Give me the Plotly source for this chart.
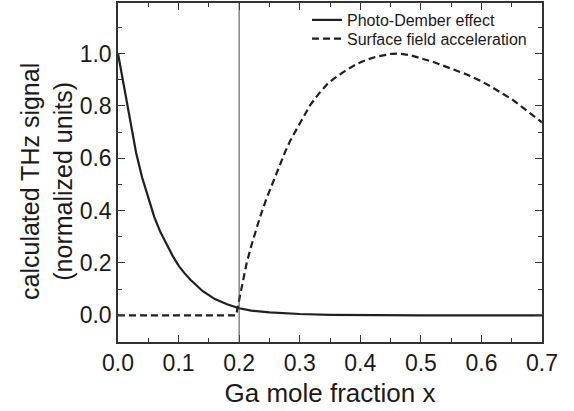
import plotly.graph_objects as go

# Photo-Dember effect (solid)
x_pd = [0.0, 0.01, 0.02, 0.03, 0.04, 0.05, 0.06, 0.07, 0.08, 0.09, 0.10, 0.11, 0.12, 0.13, 0.14, 0.16, 0.18, 0.20, 0.22, 0.25, 0.30, 0.35, 0.40, 0.50, 0.60, 0.70]
y_pd = [1.0, 0.87, 0.75, 0.62, 0.525, 0.445, 0.375, 0.318, 0.27, 0.228, 0.19, 0.16, 0.135, 0.112, 0.092, 0.062, 0.042, 0.027, 0.018, 0.011, 0.005, 0.002, 0.001, 0.0, 0.0, 0.0]

# Surface field acceleration (dashed)
x_sf = [0.0, 0.195, 0.1987, 0.203, 0.207, 0.2125, 0.22, 0.234, 0.245, 0.256, 0.266, 0.276, 0.285, 0.295, 0.306, 0.317, 0.331, 0.345, 0.356, 0.375, 0.394, 0.41, 0.427, 0.441, 0.452, 0.463, 0.472, 0.482, 0.501, 0.523, 0.540, 0.559, 0.578, 0.598, 0.615, 0.631, 0.650, 0.669, 0.688, 0.70]
y_sf = [0.0, 0.0, 0.044, 0.09, 0.133, 0.2, 0.265, 0.372, 0.445, 0.511, 0.57, 0.625, 0.67, 0.713, 0.76, 0.802, 0.845, 0.882, 0.903, 0.934, 0.96, 0.976, 0.988, 0.995, 0.999, 1.0, 0.998, 0.994, 0.981, 0.966, 0.951, 0.934, 0.918, 0.896, 0.875, 0.852, 0.826, 0.792, 0.758, 0.737]

x_ticks = [0.0, 0.1, 0.2, 0.3, 0.4, 0.5, 0.6, 0.7]
x_ticklabels = ["0.0", "0.1", "0.2", "0.3", "0.4", "0.5", "0.6", "0.7"]
y_ticks = [0.0, 0.2, 0.4, 0.6, 0.8, 1.0]
y_ticklabels = ["0.0", "0.2", "0.4", "0.6", "0.8", "1.0"]
x_marker_line = 0.2

FONT = "Liberation Sans, Arial, sans-serif"
LINE = "#231f20"
AX = "#333333"
TXT = "#1a1a1a"

fig = go.Figure()
fig.add_trace(go.Scatter(x=x_pd, y=y_pd, mode="lines", name="Photo-Dember effect",
                         line=dict(color=LINE, width=2.2), legend="legend"))
fig.add_trace(go.Scatter(x=x_sf, y=y_sf, mode="lines", name="Surface field acceleration",
                         line=dict(color=LINE, width=2.2, dash="7px,4px"), legend="legend2"))

fig.add_vline(x=x_marker_line, line=dict(color="#4a4a4a", width=1))

fig.add_annotation(text="calculated THz signal<br>(normalized units)", textangle=-90,
                   xref="paper", yref="paper", x=-0.1675, y=0.475,
                   xanchor="center", yanchor="middle", showarrow=False,
                   font=dict(size=25, family=FONT, color=TXT))

legend_style = dict(xanchor="left", yanchor="top", bgcolor="rgba(0,0,0,0)",
                    font=dict(size=16, family=FONT, color=TXT))

fig.update_layout(
    width=574, height=411,
    margin=dict(l=118, r=32, t=1, b=69),
    paper_bgcolor="white", plot_bgcolor="white",
    font=dict(family=FONT, color=TXT),
    showlegend=True,
    legend=dict(x=0.4458, y=1.0, **legend_style),
    legend2=dict(x=0.4458, y=0.9445, **legend_style),
    xaxis=dict(range=[0, 0.7], tickmode="array", tickvals=x_ticks, ticktext=x_ticklabels,
               ticks="inside", ticklen=7, tickwidth=1.3, tickcolor=AX,
               showline=True, linecolor=AX, linewidth=1.5, mirror="ticks",
               showgrid=False, zeroline=False,
               tickfont=dict(size=23, family=FONT, color=TXT),
               minor=dict(tickvals=[0.05, 0.15, 0.25, 0.35, 0.45, 0.55, 0.65], ticks="inside",
                          ticklen=4, tickwidth=1.2, tickcolor=AX, showgrid=False),
               title=dict(text="Ga mole fraction x", font=dict(size=26, family=FONT, color=TXT), standoff=8)),
    yaxis=dict(range=[-0.102, 1.193], tickmode="array", tickvals=y_ticks, ticktext=y_ticklabels,
               ticks="inside", ticklen=7, tickwidth=1.3, tickcolor=AX,
               showline=True, linecolor=AX, linewidth=1.5, mirror="ticks",
               showgrid=False, zeroline=False,
               tickfont=dict(size=23, family=FONT, color=TXT),
               minor=dict(tickvals=[-0.1, 0.1, 0.3, 0.5, 0.7, 0.9, 1.1], ticks="inside",
                          ticklen=4, tickwidth=1.2, tickcolor=AX, showgrid=False)),
)

fig.write_html("out.html")
